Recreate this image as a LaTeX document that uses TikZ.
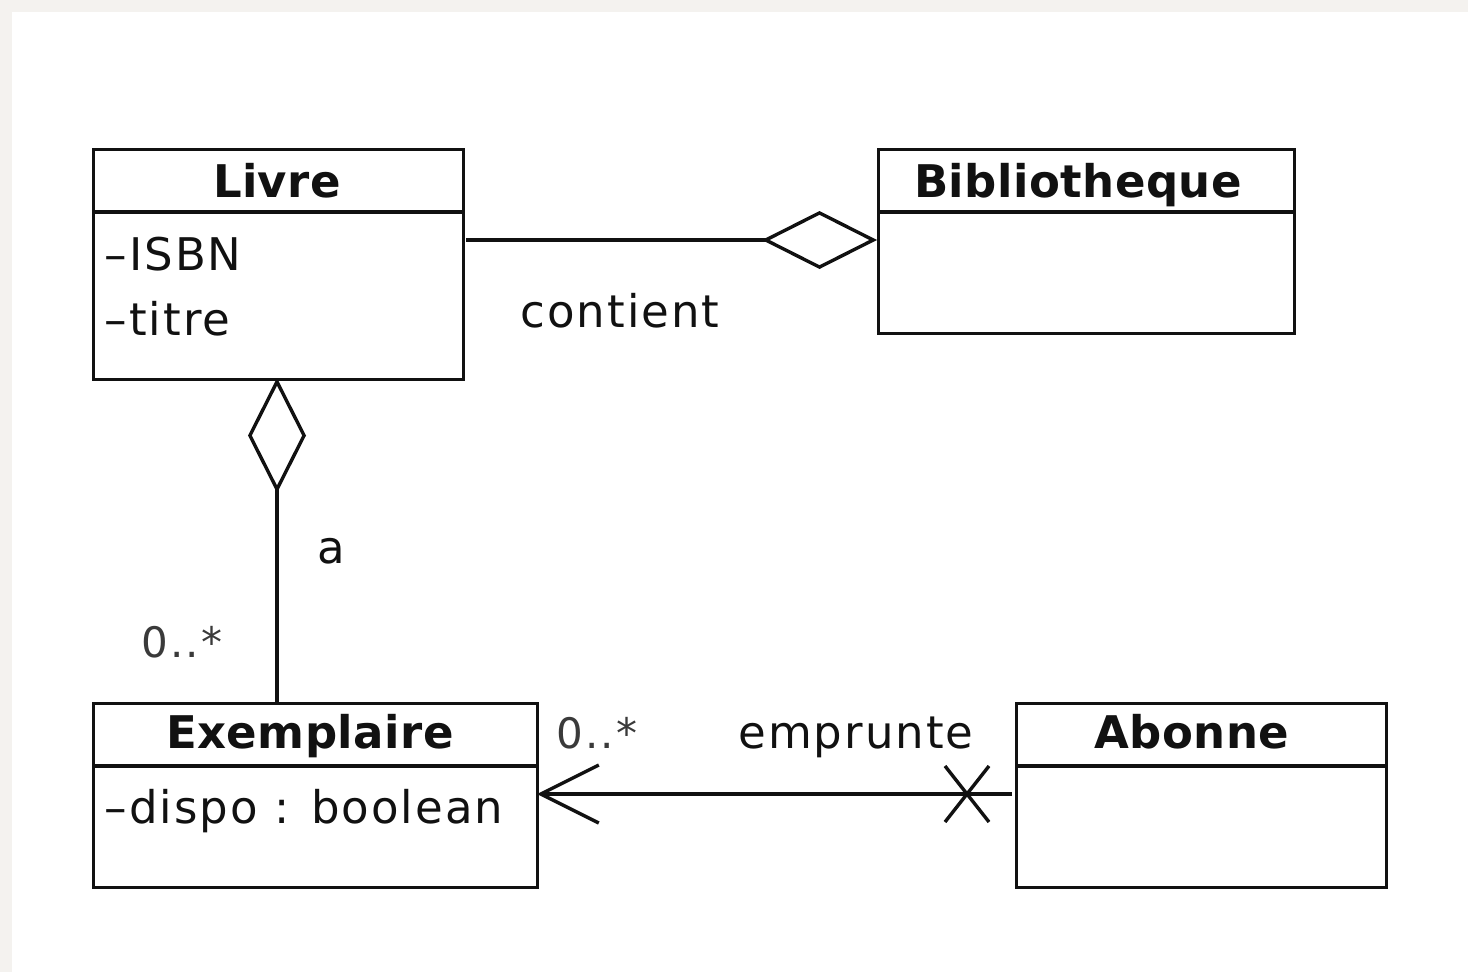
\documentclass[tikz,border=0pt]{standalone}
\usepackage{fontspec}
\setmainfont{DejaVu Sans}
\newfontfamily\spacedfont[LetterSpace=4.5]{DejaVu Sans}
\newfontfamily\titlefont[LetterSpace=1.0]{DejaVu Sans}
\usetikzlibrary{arrows.meta,calc}
\definecolor{framegray}{HTML}{F4F2EF}
\definecolor{ink}{HTML}{111111}
\definecolor{multink}{HTML}{3A3A3A}
\begin{document}
\begin{tikzpicture}[x=1pt,y=-1pt,
  line width=3.4pt,
  classbox/.style={draw=ink, rectangle, anchor=north west, inner sep=0pt},
  classtitle/.style={anchor=base, inner sep=0pt, font=\titlefont\fontsize{45}{54}\selectfont\bfseries, text=ink},
  attr/.style={anchor=base west, inner sep=0pt, font=\spacedfont\fontsize{45}{54}\selectfont, text=ink},
  lbl/.style={anchor=base, inner sep=0pt, font=\spacedfont\fontsize{45}{54}\selectfont, text=ink},
  mult/.style={anchor=base, inner sep=0pt, font=\spacedfont\fontsize{42}{50}\selectfont, text=multink},
  assoc/.style={draw=ink, line width=3.4pt},
  aggr/.style={-{Diamond[open, length=115pt, width=58pt, line width=3.4pt]}},
  navarrow/.style={-{Straight Barb[length=58pt, width=58pt, line width=3.4pt]}}
]
% background and margins
\fill[framegray] (0,0) rectangle (1468,972);
\fill[white] (12,12) rectangle (1468,972);
\useasboundingbox (0,0) rectangle (1468,972);

% class boxes
\node[classbox, minimum width=370pt, minimum height=230pt] (livre) at (92,148) {};
\draw[ink] (92,212) -- (462,212);
\node[classtitle] (livreT) at (277,197) {Livre};
\node[attr] (isbn) at (103,270) {–ISBN};
\node[attr] (titre) at (103,335) {–titre};

\node[classbox, minimum width=416pt, minimum height=184pt] (biblio) at (877,148) {};
\draw[ink] (877,212) -- (1293,212);
\node[classtitle] (biblioT) at (1078,197) {Bibliotheque};

\node[classbox, minimum width=444pt, minimum height=184pt] (exemp) at (92,702) {};
\draw[ink] (92,766) -- (536,766);
\node[classtitle] (exempT) at (310,748) {Exemplaire};
\node[attr] (dispo) at (103,823) {–dispo : boolean};

\node[classbox, minimum width=370pt, minimum height=184pt] (abonne) at (1015,702) {};
\draw[ink] (1015,766) -- (1385,766);
\node[classtitle] (abonneT) at (1192,748) {Abonne};

% association endpoints
\coordinate (cA) at (466,240);
\coordinate (cB) at (877,240);
\coordinate (aA) at (277,702);
\coordinate (aB) at (277,378);
\coordinate (eA) at (1012,794);
\coordinate (eB) at (537,794);
\coordinate (xc) at (967,794);

% contient: Livre -- Bibliotheque (aggregation on Bibliotheque)
\draw[assoc, aggr] (cA) -- (cB);
\node[lbl] (contient) at (620,327) {contient};

% a: Exemplaire -- Livre (aggregation on Livre)
\draw[assoc, aggr] (aA) -- (aB);
\node[lbl] (aLbl) at (331,563) {a};
\node[mult] (m1) at (182,657) {0..*};

% emprunte: Abonne -> Exemplaire
\draw[assoc, navarrow] (eA) -- (eB);
\draw[assoc] ($(xc)+(-22,-28)$) -- ($(xc)+(22,28)$);
\draw[assoc] ($(xc)+(-22,28)$) -- ($(xc)+(22,-28)$);
\node[mult] (m2) at (597,748) {0..*};
\node[lbl] (emprunte) at (856,748) {emprunte};
\end{tikzpicture}
\end{document}
